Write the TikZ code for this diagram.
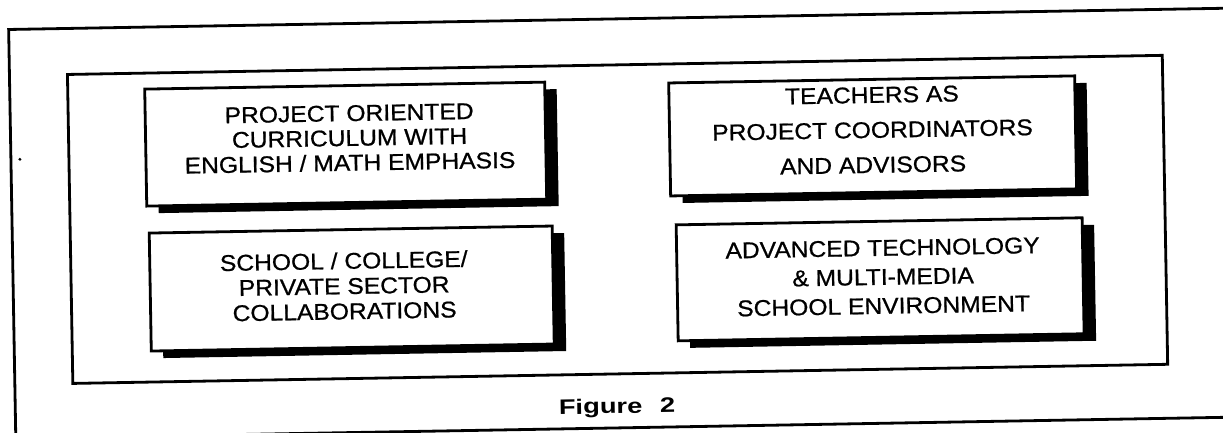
\documentclass[tikz,border=0pt]{standalone}
\usepackage{fontspec}
\setmainfont{Liberation Sans}[FakeStretch=1.08,FakeBold=0.8]
\newfontfamily\figfont{Liberation Sans}[FakeStretch=1.3]
\usetikzlibrary{shadows}
\begin{document}
\begin{tikzpicture}[x=0.5pt,y=-0.5pt,
  frame/.style={line width=1.4pt},
  card/.style={draw, line width=1.4pt, fill=white, inner sep=0pt, transform shape,
     drop shadow={fill=black, opacity=1, shadow xshift=6pt, shadow yshift=-3.5pt}},
  cardtext/.style={align=center, inner sep=0pt, transform shape},
]
\useasboundingbox (0,0) rectangle (1223,433);
\clip (0,0) rectangle (1223,433);
\begin{scope}[rotate around={1:(611,216)}]
  % outer and inner frames
  \draw[frame] (12,19) rectangle (1280,428);
  \draw[frame] (70,65) rectangle (1165,374);
  % speck
  \fill (21,149) circle[radius=0.8pt];
  % cards
  \node[card, minimum width=200pt, minimum height=58.5pt] (b1) at (347,139.5) {};
  \node[card, minimum width=203pt, minimum height=56.5pt] (b2) at (874,140.5) {};
  \node[card, minimum width=201.5pt, minimum height=59pt] (b3) at (350.5,284) {};
  \node[card, minimum width=203pt, minimum height=58pt] (b4) at (879,284) {};
  % texts
  \node[cardtext, font=\fontsize{11.4pt}{12.4pt}\selectfont] (t1) at (351,133.5)
    {PROJECT ORIENTED\\CURRICULUM WITH\\ENGLISH / MATH EMPHASIS};
  \node[cardtext, font=\fontsize{11.4pt}{17.5pt}\selectfont] (t2) at (874,134.6)
    {TEACHERS AS\\PROJECT COORDINATORS\\AND ADVISORS};
  \node[cardtext, font=\fontsize{11.4pt}{12.6pt}\selectfont] (t3) at (343,281.3)
    {SCHOOL / COLLEGE/\\PRIVATE SECTOR\\COLLABORATIONS};
  \node[cardtext, font=\fontsize{11.4pt}{14.5pt}\selectfont] (t4) at (882,281.7)
    {ADVANCED TECHNOLOGY\\\& MULTI-MEDIA\\SCHOOL ENVIRONMENT};
  % caption
  \node[transform shape, inner sep=0pt, anchor=base,
        font=\figfont\bfseries\fontsize{10.5pt}{12pt}\selectfont] (cap) at (613.7,413.4)
    {Figure \hspace{5pt}2};
\end{scope}
\end{tikzpicture}
\end{document}
